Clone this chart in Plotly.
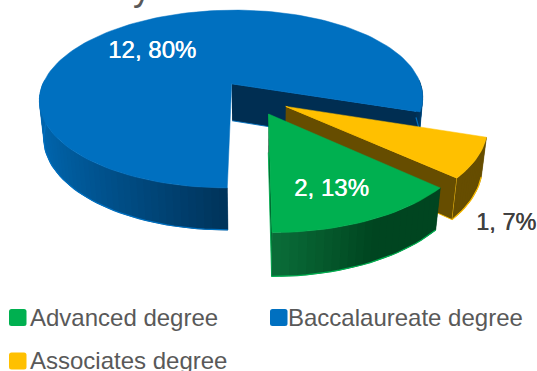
import numpy as np
import plotly.graph_objects as go

# Degree mix of the faculty group
categories = ["Advanced degree", "Baccalaureate degree", "Associates degree"]
counts = [2, 12, 1]
percent_labels = ["2, 13%", "12, 80%", "1, 7%"]
top_colors = ["#00B050", "#0070C0", "#FFC000"]
side_dark = ["#004520", "#003258", "#664D00"]
side_light = ["#0A6C38", "#0068B2", "#664D00"]
cut_colors = ["#004520", "#002E52", "#664D00"]
title_text = "Faculty Sciences Doctorates"

# Pie geometry: angles run clockwise from the top of the disc
START_ANGLE = 132.0
EXPLODE = 0.192
THICK = 0.225
CX, CY = 253.0, 97.5
SCALE = 194.0
PITCH = np.radians(28.0)
DIST = 5.0


def project(X, Y, Z):
    """Perspective view of a disc lying in the X-Y plane, Y towards the viewer."""
    X, Y, Z = np.asarray(X, float), np.asarray(Y, float), np.asarray(Z, float)
    depth = DIST - Y * np.cos(PITCH) - Z * np.sin(PITCH)
    s = DIST / depth
    return CX + SCALE * X * s, CY + SCALE * (Y * np.sin(PITCH) - Z * np.cos(PITCH)) * s


def mix(c1, c2, t):
    a = [int(c1[i:i + 2], 16) for i in (1, 3, 5)]
    b = [int(c2[i:i + 2], 16) for i in (1, 3, 5)]
    return "rgb(%d,%d,%d)" % tuple(round(p + (q - p) * t) for p, q in zip(a, b))


fig = go.Figure()


def face(xs, ys, color, line=None, width=0.5):
    fig.add_trace(go.Scatter(
        x=list(xs), y=list(ys), mode="lines", fill="toself", fillcolor=color,
        line=dict(color=line or color, width=width),
        hoverinfo="skip", showlegend=False))


total = sum(counts)
sweeps = [c / total * 360.0 for c in counts]

# Slice order around the disc: advanced ends at the bottom, baccalaureate wraps behind
starts = [START_ANGLE, START_ANGLE + sweeps[0], START_ANGLE + sweeps[0] + sweeps[1]]
# Rim gradient reaches its darkest tone this far across the visible rim
ramp_end = [0.55, 1.0, 1.0]

for idx in (1, 2, 0):
    a0 = np.radians(starts[idx])
    a1 = np.radians(starts[idx] + sweeps[idx])
    mid = (a0 + a1) / 2
    ox, oy = EXPLODE * np.sin(mid), -EXPLODE * np.cos(mid)
    th = np.linspace(a0, a1, int(max(sweeps[idx] / 2, 16)))
    rx = ox + np.sin(th)
    ry = oy - np.cos(th)

    # Flat cut faces that turn towards the viewer
    for a, sign in ((a0, 1), (a1, -1)):
        ex, ey = ox + np.sin(a), oy - np.cos(a)
        if sign * -np.sin(a) > 0:
            px, py = project([ox, ex, ex, ox], [oy, ey, ey, oy], [0, 0, -THICK, -THICK])
            face(px, py, cut_colors[idx], top_colors[idx], 0.9)

    # Outer rim: the part facing the viewer may come in separate runs of points
    vis = np.where(np.cos(th) < 0.06)[0]
    runs = np.split(vis, np.where(np.diff(vis) > 1)[0] + 1)
    for run in runs:
        span = max(rx[run].max() - rx[run].min(), 1e-6)
        order = run if rx[run[0]] <= rx[run[-1]] else run[::-1]
        # Shaded strip by strip, each overlapping the next to hide seams
        for n in range(len(order) - 1):
            i = order[n]
            j = order[min(n + 2, len(order) - 1)]
            t = min(1.0, (rx[i] - rx[run].min()) / span / ramp_end[idx])
            px, py = project([rx[i], rx[j], rx[j], rx[i]], [ry[i], ry[j], ry[j], ry[i]],
                             [0, 0, -THICK, -THICK])
            face(px, py, mix(side_light[idx], side_dark[idx], t), width=0.3)

        # Bright outline along the foot of the rim
        px, py = project(rx[run], ry[run], np.full(len(run), -THICK))
        fig.add_trace(go.Scatter(x=px, y=py, mode="lines",
                                 line=dict(color=top_colors[idx], width=1.2),
                                 hoverinfo="skip", showlegend=False))

    # Top face
    px, py = project(np.r_[ox, rx, ox], np.r_[oy, ry, oy], np.zeros(len(rx) + 2))
    face(px, py, top_colors[idx])

label_pos = [(331, 187, "#FFFFFF", 24), (152, 49, "#FFFFFF", 24), (505.5, 222, "#404040", 23.5)]
annotations = []
for (x, y, col, size), text in zip(label_pos, percent_labels):
    annotations.append(dict(x=x, y=y, xref="x", yref="y", text=text, showarrow=False,
                            font=dict(family="Liberation Sans", size=size, color=col,
                                      shadow=f"0.5px 0 0 {col}")))

# Chart title, running off the top edge of the frame
annotations.append(dict(x=33, y=0.98, yshift=-2.7, xref="x", yref="paper",
                        text=title_text, showarrow=False, xanchor="left", yanchor="bottom",
                        font=dict(family="Liberation Sans", size=36, color="#595959")))

# Legend swatches and captions
legend_pos = [(9, 317.5, 27.5), (270, 317.5, 285.5), (9, 361, 27.5)]
shapes = []
for (x, y, text_x), col, name in zip(legend_pos, top_colors, categories):
    r = 2.5
    l, rt, t, b = x, x + 17.5, y - 8.5, y + 8.5
    shapes.append(dict(type="path", xref="x", yref="y", fillcolor=col, line=dict(width=0),
                       path=f"M{l+r},{t} L{rt-r},{t} Q{rt},{t} {rt},{t+r} L{rt},{b-r} Q{rt},{b} {rt-r},{b} "
                            f"L{l+r},{b} Q{l},{b} {l},{b-r} L{l},{t+r} Q{l},{t} {l+r},{t} Z"))
    annotations.append(dict(x=text_x, y=y - 0.5, xref="x", yref="y", text=name, showarrow=False,
                            xanchor="left", font=dict(family="Liberation Sans", size=24, color="#595959")))

fig.update_layout(
    width=537, height=371, margin=dict(l=0, r=0, t=0, b=0),
    paper_bgcolor="white", plot_bgcolor="white", showlegend=False,
    xaxis=dict(range=[0, 537], visible=False, fixedrange=True),
    yaxis=dict(range=[371, 0], visible=False, fixedrange=True),
    annotations=annotations, shapes=shapes)

fig.write_html("out.html", config={"displayModeBar": False})
